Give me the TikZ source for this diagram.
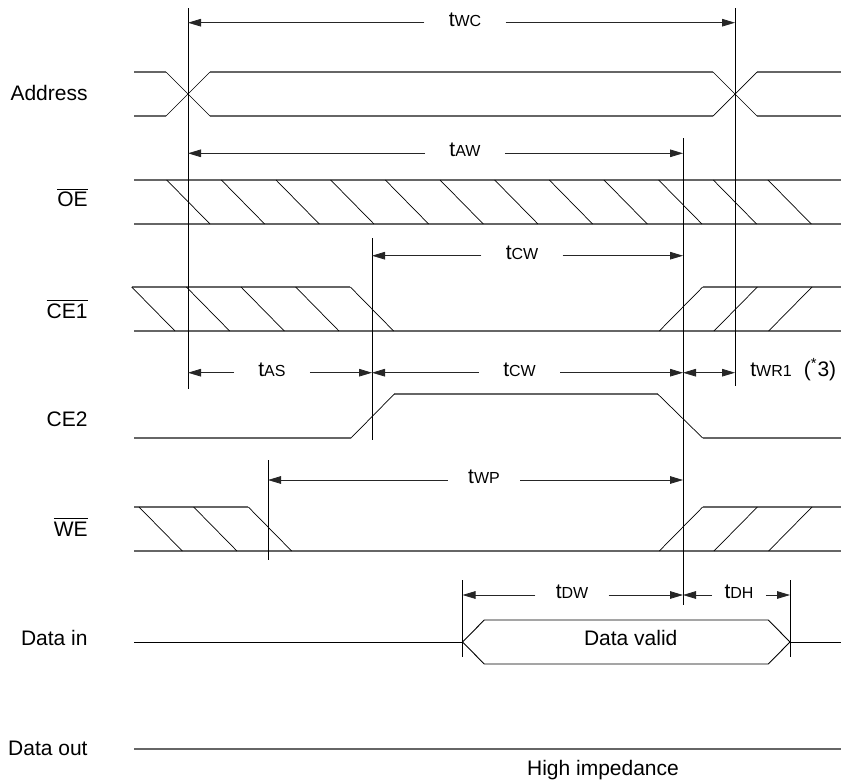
\documentclass[tikz,border=0pt]{standalone}
\usepackage{fontspec}
\setmainfont{Liberation Sans}
\usetikzlibrary{arrows.meta}

\newcommand{\tsub}[1]{t{\fontsize{8}{9}\selectfont #1}}
\newcommand{\ovl}[1]{$\overline{\mbox{#1}}$}

\tikzset{
  sig/.style={draw=black!60, line width=0.65pt},
  hatch/.style={draw=black, line width=0.35pt},
  vline/.style={draw=black, line width=0.4pt},
  dim/.style={draw=black!85, line width=0.4pt, -{Triangle[length=6.5pt,width=3.8pt]}},
  dimboth/.style={dim, {Triangle[length=6.5pt,width=3.8pt]}-{Triangle[length=6.5pt,width=3.8pt]}},
  dimlab/.style={inner xsep=12pt, inner ysep=0pt, text height=6pt, text depth=2.5pt, font=\fontsize{10.5}{12}\selectfont},
  siglab/.style={anchor=base east, inner sep=0pt, font=\fontsize{10.5}{12}\selectfont},
}

\begin{document}
\begin{tikzpicture}[x=0.5pt, y=-0.5pt]
\useasboundingbox (0,0) rectangle (841,782);

% signal names
\node[siglab] (addr) at (88,100) {Address};
\node[siglab] (oe) at (88,206.7) {\ovl{OE}};
\node[siglab] (ce1) at (88,318.3) {\ovl{CE1}};
\node[siglab] (ce2) at (88,426) {CE2};
\node[siglab] (we) at (88,536) {\ovl{WE}};
\node[siglab] (din) at (88,645.7) {Data in};
\node[siglab] (dout) at (88,755) {Data out};

% Address
\draw[sig] (134,72) -- (166,72)  (210,72) -- (713,72)  (757,72) -- (841,72);
\draw[sig] (134,116) -- (166,116)  (210,116) -- (713,116)  (757,116) -- (841,116);
\draw[hatch] (166,72) -- (210,116)  (166,116) -- (210,72)  (713,72) -- (757,116)  (713,116) -- (757,72);

% OE
\draw[sig] (134,180) -- (841,180)  (134,224) -- (841,224);
\foreach \k in {0,...,11}
  \draw[hatch] ({166.7+54.66*\k},180) -- ({210+54.66*\k},224);

% CE1
\draw[sig] (132,287) -- (350.3,287)  (702.7,287) -- (841,287)  (134,331) -- (841,331);
\foreach \k in {0,...,4}
  \draw[hatch] ({131.7+54.66*\k},287) -- ({175+54.66*\k},331);
\foreach \k in {0,...,2}
  \draw[hatch] ({659.3+54.66*\k},331) -- ({702.7+54.66*\k},287);

% CE2
\draw[sig] (134,438) -- (351,438)  (394.3,394) -- (657.7,394)  (702.7,438) -- (841,438);
\draw[hatch] (351,438) -- (394.3,394)  (657.7,394) -- (702.7,438);

% WE
\draw[sig] (134,507) -- (248.3,507)  (702.7,507) -- (841,507)  (134,551) -- (841,551);
\foreach \k in {0,...,2}
  \draw[hatch] ({139+54.66*\k},507) -- ({182.3+54.66*\k},551);
\foreach \k in {0,...,2}
  \draw[hatch] ({659.3+54.66*\k},551) -- ({702.7+54.66*\k},507);

% Data in / Data out
\draw[hatch, line width=0.45pt] (134,642) -- (462.5,642)  (790,642) -- (841,642);
\draw[hatch, line width=0.45pt] (462.5,642) -- (484.3,620) -- (768.3,620) -- (790,642) -- (768.3,664) -- (484.3,664) -- cycle;
\node[siglab, anchor=base] (valid) at (630.7,645.7) {Data valid};
\draw[sig] (134,749) -- (841,749);
\node[siglab, anchor=base] (hiz) at (603,775.7) {High impedance};

% timing marks
\coordinate (asTop) at (188,8);     \coordinate (asBot) at (188,389);
\coordinate (wcTop) at (735,8);     \coordinate (wcBot) at (735,386);
\coordinate (weTop) at (683,138);   \coordinate (weBot) at (683,605);
\coordinate (csTop) at (372,238);   \coordinate (csBot) at (372,440);
\coordinate (wpTop) at (268,460);   \coordinate (wpBot) at (268,560);
\coordinate (dwTop) at (462.5,580); \coordinate (dwBot) at (462.5,657);
\coordinate (dhTop) at (790,580);   \coordinate (dhBot) at (790,657);
\foreach \m in {as,wc,we,cs,wp,dw,dh}
  \draw[vline] (\m Top) -- (\m Bot);

% dimensions
\node[dimlab] (twc) at (465,22.7) {\tsub{WC}};
\draw[dim] (twc.west) -- (twc -| asTop);
\draw[dim] (twc.east) -- (twc -| wcTop);

\node[dimlab] (taw) at (465,153.3) {\tsub{AW}};
\draw[dim] (taw.west) -- (taw -| asTop);
\draw[dim] (taw.east) -- (taw -| weTop);

\node[dimlab] (tcw) at (522,255.7) {\tsub{CW}};
\draw[dim] (tcw.west) -- (tcw -| csTop);
\draw[dim] (tcw.east) -- (tcw -| weTop);

\node[dimlab] (tas) at (272,372.7) {\tsub{AS}};
\draw[dim] (tas.west) -- (tas -| asTop);
\draw[dim] (tas.east) -- (tas -| csTop);

\node[dimlab] (tcw2) at (519.5,372.7) {\tsub{CW}};
\draw[dim] (tcw2.west) -- (tcw2 -| csTop);
\draw[dim] (tcw2.east) -- (tcw2 -| weTop);

\node[dimlab, inner xsep=0pt, anchor=west] (twr) at (750,372.7) {\tsub{WR1}\hspace{6pt}(\textsuperscript{*}3)};
\draw[dimboth] (tcw2 -| weTop) -- (tcw2 -| wcTop);

\node[dimlab, inner xsep=10pt] (twp) at (484,480) {\tsub{WP}};
\draw[dim] (twp.west) -- (twp -| wpTop);
\draw[dim] (twp.east) -- (twp -| weTop);

\node[dimlab, inner xsep=10pt] (tdw) at (572,595) {\tsub{DW}};
\draw[dim] (tdw.west) -- (tdw -| dwTop);
\draw[dim] (tdw.east) -- (tdw -| weTop);

\node[dimlab, inner xsep=6pt] (tdh) at (739,595) {\tsub{DH}};
\draw[dim] (tdh.west) -- (tdh -| weTop);
\draw[dim] (tdh.east) -- (tdh -| dhTop);
\end{tikzpicture}
\end{document}
